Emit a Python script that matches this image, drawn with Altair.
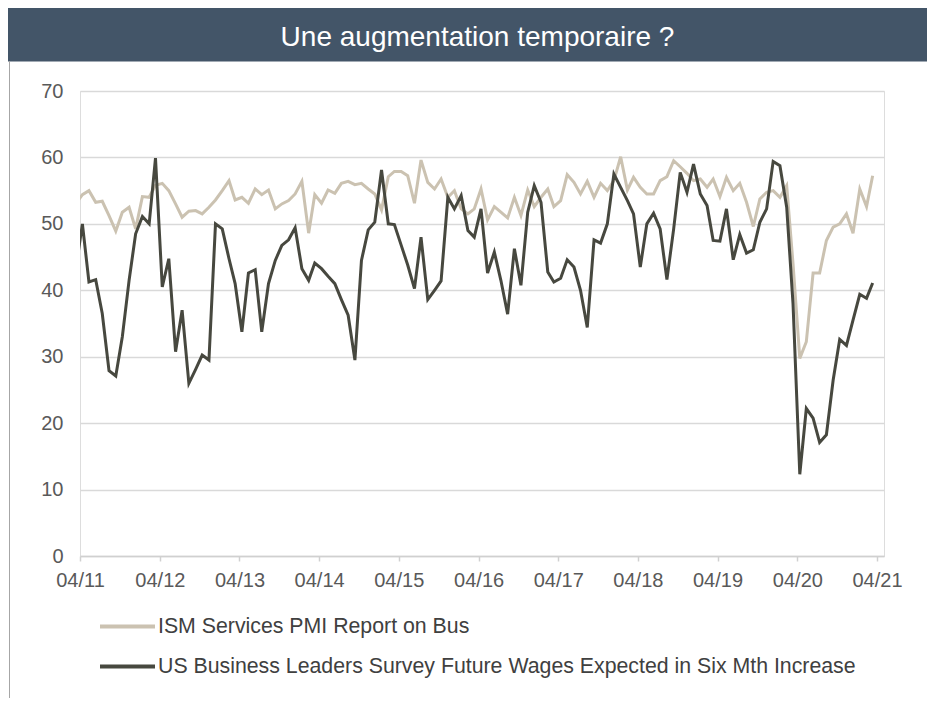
import altair as alt
import pandas as pd

TITLE = "Une augmentation temporaire ?"
SERIES = ["ISM Services PMI Report on Bus",
          "US Business Leaders Survey Future Wages Expected in Six Mth Increase"]
COLORS = ["#CBC2B1", "#47483F"]

# monthly observations, March 2011 .. March 2021 (mid-month)
START_MONTH = "2011-03-01"

ism = [53.0,
       54.4, 55.0, 53.25, 53.4, 51.25, 48.9, 51.75, 52.5, 49.25, 54.1, 54.0, 55.8,
       56.1, 55.0, 53.0, 51.0, 51.9, 52.0, 51.5, 52.5, 53.6, 55.0, 56.5, 53.6,
       54.0, 53.1, 55.25, 54.4, 55.1, 52.25, 53.0, 53.5, 54.5, 56.4, 48.6, 54.4,
       53.1, 55.1, 54.6, 56.1, 56.4, 55.9, 56.1, 55.25, 54.5, 52.1, 57.1, 57.9,
       57.9, 57.25, 53.1, 59.6, 56.25, 55.25, 56.75, 54.0, 55.0, 52.25, 51.5, 52.25,
       55.25, 50.6, 52.6, 51.75, 50.9, 54.0, 51.25, 55.1, 52.6, 54.0, 55.25, 52.6,
       53.5, 57.4, 56.25, 54.5, 56.4, 54.0, 56.1, 55.0, 56.5, 60.1, 55.1, 57.0,
       55.5, 54.5, 54.5, 56.5, 57.1, 59.5, 58.6, 57.6, 56.5, 56.75, 55.5, 56.75,
       54.1, 57.0, 55.0, 56.1, 53.25, 49.6, 53.75, 54.75, 55.0, 54.0, 55.75, 44.0,
       29.75, 32.25, 42.6, 42.6, 47.5, 49.5, 50.0, 51.5, 48.6, 55.25, 52.6, 57.25]

wages = [43.0,
         50.0, 41.25, 41.6, 36.5, 27.9, 27.1, 33.0, 41.5, 48.5, 51.1, 50.0, 59.9,
         40.5, 44.75, 30.75, 37.0, 26.0, 28.1, 30.25, 29.5, 50.0, 49.25, 44.75, 41.0,
         33.75, 42.6, 43.1, 33.75, 41.0, 44.5, 46.75, 47.6, 49.4, 43.25, 41.5, 44.1,
         43.25, 42.1, 41.0, 38.6, 36.25, 29.5, 44.5, 49.1, 50.25, 58.1, 50.0, 49.9,
         46.8, 43.8, 40.25, 48.0, 38.6, 40.0, 41.4, 54.0, 52.25, 54.25, 49.0, 48.0,
         52.25, 42.6, 45.75, 41.5, 36.4, 46.25, 40.75, 51.75, 55.75, 53.25, 42.75, 41.25,
         41.8, 44.6, 43.5, 40.0, 34.4, 47.6, 47.1, 50.0, 57.5, 55.5, 53.5, 51.5,
         43.5, 50.0, 51.6, 49.25, 41.6, 49.25, 57.75, 54.75, 59.0, 54.5, 52.75, 47.5,
         47.4, 52.25, 44.6, 48.4, 45.6, 46.1, 50.25, 52.25, 59.4, 58.75, 52.5, 38.0,
         12.3, 22.2, 20.75, 17.1, 18.25, 26.5, 32.6, 31.7, 35.5, 39.4, 38.8, 41.1]

tick_dates = ["%d-04-01" % y for y in range(2011, 2022)]
y_ticks = [0, 10, 20, 30, 40, 50, 60, 70]

dates = pd.date_range(START_MONTH, periods=len(ism), freq="MS") + pd.Timedelta(days=11)

df = pd.concat([
    pd.DataFrame({"date": dates, "value": ism, "series": SERIES[0]}),
    pd.DataFrame({"date": dates, "value": wages, "series": SERIES[1]}),
])

FONT = "Liberation Sans"

lines = alt.Chart(df).mark_line(strokeWidth=3, clip=True).encode(
    x=alt.X("date:T",
            scale=alt.Scale(domain=["2011-04-01", "2021-05-03"]),
            axis=alt.Axis(title=None, values=tick_dates, format="%m/%y",
                          labelFontSize=20, labelColor="#595959", labelFont=FONT,
                          labelPadding=9.5, tickSize=5, tickColor="#D0D0D0",
                          tickWidth=1.5, domainColor="#D0D0D0", domainWidth=1.5,
                          grid=False, labelFlush=False)),
    y=alt.Y("value:Q",
            scale=alt.Scale(domain=[0, 70], nice=False),
            axis=alt.Axis(title=None, values=y_ticks, labelFontSize=20,
                          labelColor="#595959", labelFont=FONT, labelPadding=17,
                          ticks=False, tickSize=0, domain=False, grid=True,
                          gridColor="#D9D9D9", gridWidth=1.5)),
    color=alt.Color("series:N",
                    scale=alt.Scale(domain=SERIES, range=COLORS),
                    legend=alt.Legend(title=None, orient="none", legendX=18,
                                      legendY=506, direction="vertical",
                                      symbolType="stroke", symbolSize=3025,
                                      symbolStrokeWidth=4, labelFontSize=21.3,
                                      labelColor="#404040", labelFont=FONT,
                                      labelOffset=1, rowPadding=-12, padding=0,
                                      labelLimit=0)),
)

tdf = pd.DataFrame({"title": [TITLE]})
bar = alt.Chart(tdf).mark_rect(color="#435568").encode(
    x=alt.value(-72), x2=alt.value(847), y=alt.value(-83), y2=alt.value(-29.5))
title = alt.Chart(tdf).mark_text(color="white", fontSize=28, font=FONT,
                                 align="center", baseline="alphabetic").encode(
    text="title:N", x=alt.value(397.5), y=alt.value(-45.5))
border = alt.Chart(tdf).mark_rule(color="#A6A6A6", strokeWidth=1).encode(
    x=alt.value(-70.5), y=alt.value(-30), y2=alt.value(620))

chart = alt.layer(bar, title, border, lines).properties(
    width=804, height=465,
    autosize=alt.AutoSizeParams(type="none"),
    padding={"left": 72, "top": 83, "right": 43, "bottom": 142},
).configure_view(stroke=None).configure(font=FONT)

chart.save("out.html", embed_options={"renderer": "svg", "actions": False})
